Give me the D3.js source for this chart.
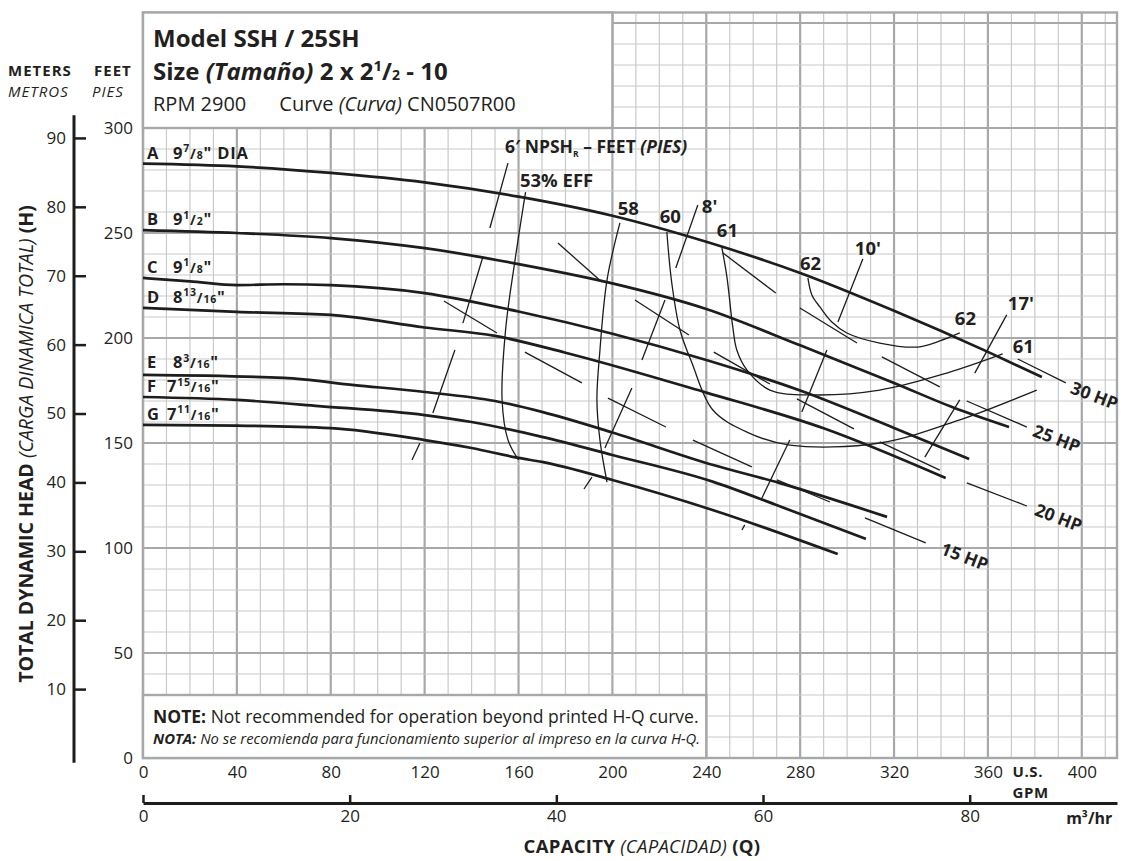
<!DOCTYPE html>
<html>
<head>
<meta charset="utf-8">
<script src="https://cdn.jsdelivr.net/npm/d3@7"></script>
<style>
  body { margin: 0; background: #fff; }
  svg text { font-family: "Open Sans", Lato, sans-serif; fill: #231f20; }
</style>
</head>
<body>
<div id="chart"></div>
<script>
// ---- axis ticks ----
const gpmTicks = [0, 40, 80, 120, 160, 200, 240, 280, 320, 360, 400];
const m3hrTicks = [0, 20, 40, 60, 80];
const feetTicks = [0, 50, 100, 150, 200, 250, 300];
const meterTicks = [10, 20, 30, 40, 50, 60, 70, 80, 90];

// ---- impeller head curves (GPM, feet) ----
const curveNames = ["A", "B", "C", "D", "E", "F", "G"];
const curveDia = [["9", "7", "8", "\" DIA"], ["9", "1", "2", "\""], ["9", "1", "8", "\""],
                  ["8", "13", "16", "\""], ["8", "3", "16", "\""], ["7", "15", "16", "\""], ["7", "11", "16", "\""]];
const qA = [0, 40, 80, 120, 160, 200, 240, 280, 320, 360, 383];
const hA = [283, 281.7, 278.6, 274.1, 267.3, 258.2, 245.8, 231, 213, 193.4, 181.4];
const qB = [0, 40, 80, 120, 160, 200, 240, 280, 320, 345, 369];
const hB = [251.4, 250, 247.6, 242.8, 235.2, 226, 213.8, 196.5, 178.6, 167, 157.6];
const qC = [0, 20, 40, 60, 80, 120, 160, 200, 240, 280, 320, 352];
const hC = [228.6, 227, 225.2, 225.6, 225.2, 221.4, 212.6, 202, 189.5, 175, 157.2, 142.4];
const qD = [0, 40, 80, 120, 150, 180, 240, 290, 342];
const hD = [214.3, 212.4, 211, 205, 201, 193, 174, 157, 133.3];
const qE = [0, 60, 90, 120, 150, 170, 200, 243, 271, 317];
const hE = [182.4, 181, 177.6, 174.3, 170, 164.8, 155, 139.5, 131, 114.8];
const qF = [0, 40, 75, 120, 140, 170, 200, 243, 271, 308];
const hF = [171.9, 170.5, 167.6, 163.3, 160, 152.9, 144.3, 131.5, 120, 104.3];
const qG = [0, 40, 80, 120, 140, 160, 170, 200, 243, 296];
const hG = [158.6, 158.3, 157.1, 151.4, 147.6, 142.9, 141, 132.4, 118, 97.1];

// ---- efficiency curves ----
const eff53Q = [163, 158.5, 154.5, 153, 155.5, 160];
const eff53H = [269.5, 237, 204, 170.5, 151.5, 142];
const eff58Q = [203.2, 197.7, 194.7, 193.4, 194.7, 197.7];
const eff58H = [254.8, 227.6, 194.3, 170.5, 151.4, 131.4];
const eff60Q = [223.2, 225.3, 228.8, 233.9, 242.8, 257.3, 275.6, 313.9, 348, 380.8];
const eff60H = [250.5, 226.2, 203.8, 188.1, 165.7, 155.2, 149, 150, 161, 175.2];
const eff61Q = [246.6, 248.8, 251.3, 253, 257.3, 267.1, 285.4, 313.9, 342.5, 366.3];
const eff61H = [243.3, 229, 205.2, 194.3, 184.8, 175.2, 172.9, 175.2, 183.3, 192.4];
const eff62Q = [283.3, 285, 288.4, 293.5, 299.9, 313.9, 330.1, 339.5, 348];
const eff62H = [228.6, 220.5, 214.8, 207.6, 202.4, 197.6, 195.7, 198.6, 202.4];

// ---- NPSHr marks [q1, h1, q2, h2] ----
const npsh6 = [[155.5, 283.3, 147.8, 252.4], [144.8, 238.6, 136.3, 207.1], [132.9, 194.3, 123.5, 164.3], [118, 150, 114.6, 141.9]];
const npsh8 = [[236.4, 263.3, 227, 233.3], [222.4, 218.1, 212.6, 189.5], [208.3, 176.2, 196.8, 147.6], [191.3, 133.8, 187.9, 128.1]];
const npsh10 = [[306.7, 237.6, 296.1, 207.6], [291.4, 194.3, 280.7, 164.8], [275.6, 151.4, 263.7, 123.8], [256.4, 111, 255.2, 108.6]];
const npsh17 = [[368, 211, 354.4, 183.3], [348, 170.5, 333.1, 143.3]];

// ---- horsepower marks [q1, h1, q2, h2] ----
const hpMarks = [
  [176.8, 245.2, 195.5, 226.7], [209.6, 218.1, 232.6, 201.4], [247.1, 240.5, 269.6, 221.4],
  [128.2, 217.6, 150.8, 202.4], [279.9, 214.3, 304.2, 197.6], [314.8, 191, 339.5, 176.7],
  [372.7, 190, 393.2, 178.6], [278.6, 171, 302.9, 156.7], [351, 170, 376.6, 157.6],
  [162.7, 193.3, 187, 178.6], [198.1, 171.4, 222.8, 157.6], [243.2, 193.3, 267.1, 178.1],
  [234.3, 151.4, 259.4, 138.6], [270.1, 132.4, 292.7, 121.9], [313.9, 150.5, 339.5, 137.1],
  [351, 131, 376.6, 120], [307.6, 114.3, 333.5, 102.4]
];
const hpLabels = ["30 HP", "25 HP", "20 HP", "15 HP"];
const hpLabelQ = [405.5, 389.4, 390.2, 350.2];
const hpLabelH = [172.9, 152.4, 114.8, 96.2];

// ---- curve tags ----
const tagText = ["58", "60", "8'", "61", "62", "10'", "62", "17'", "61"];
const tagQ = [202.3, 220.2, 238.1, 244.5, 279.9, 303.3, 345.9, 368.5, 370.6];
const tagH = [258.6, 254.8, 259.5, 248.1, 232.4, 239.5, 206.2, 213.3, 192.9];

const width = 1121, height = 861;
const svg = d3.select("#chart").append("svg")
    .attr("width", width)
    .attr("height", height);

const x = d3.scaleLinear().domain([0, 415]).range([143, 1117]);
const y = d3.scaleLinear().domain([0, 355]).range([758, 12.5]);
const xm = d3.scaleLinear().domain([0, 415 / 4.4029]).range(x.range());
const ym = d3.scaleLinear().domain([0, 355 / 3.2808]).range(y.range());

const minorCol = "#c9cacb", majorCol = "#a7a8aa", ink = "#1d1d1b";

// grid
const grid = svg.append("g");
const vLines = d3.range(0, 415, 10).sort((a, b) => (a % 40 === 0) - (b % 40 === 0));
grid.selectAll(".v").data(vLines).join("line")
    .attr("x1", d => x(d)).attr("x2", d => x(d))
    .attr("y1", y(0)).attr("y2", y(355))
    .attr("stroke", d => d % 40 === 0 ? majorCol : minorCol)
    .attr("stroke-width", d => d % 40 === 0 ? 2.2 : 1.2);
const hLines = d3.range(0, 355, 10).sort((a, b) => (a % 50 === 0) - (b % 50 === 0));
grid.selectAll(".h").data(hLines).join("line")
    .attr("y1", d => y(d)).attr("y2", d => y(d))
    .attr("x1", x(0)).attr("x2", x(415))
    .attr("stroke", d => d % 50 === 0 ? majorCol : minorCol)
    .attr("stroke-width", d => d % 50 === 0 ? 2.2 : 1.2);
grid.append("rect")
    .attr("x", x(0)).attr("y", y(355))
    .attr("width", x(415) - x(0)).attr("height", y(0) - y(355))
    .attr("fill", "none").attr("stroke", majorCol).attr("stroke-width", 2.4);

// title and note boxes
svg.append("rect")
    .attr("x", x(0)).attr("y", y(355))
    .attr("width", x(200) - x(0)).attr("height", y(300) - y(355))
    .attr("fill", "#fff").attr("stroke", majorCol).attr("stroke-width", 2.4);
svg.append("rect")
    .attr("x", x(0)).attr("y", y(30))
    .attr("width", x(240) - x(0)).attr("height", y(0) - y(30))
    .attr("fill", "#fff").attr("stroke", majorCol).attr("stroke-width", 2.4);

function rich(g, px, py, size, parts) {
    const t = g.append("text").attr("x", px).attr("y", py).attr("font-size", size);
    parts.forEach(p => {
        const ts = t.append("tspan").text(p.t);
        if (p.b) ts.attr("font-weight", 700);
        if (p.i) ts.attr("font-style", "italic");
        if (p.fs) ts.attr("font-size", p.fs);
        if (p.dy) ts.attr("dy", p.dy);
        if (p.dx) ts.attr("dx", p.dx);
    });
    return t;
}

const ann = svg.append("g");
const bx = x(0) + 10;
rich(ann, bx, 47, 24, [{t: "Model SSH / 25SH", b: 1}]);
rich(ann, bx, 80, 24, [{t: "Size ", b: 1}, {t: "(Tamaño)", b: 1, i: 1}, {t: " 2 x 2", b: 1},
    {t: "1", b: 1, fs: 15, dy: -9}, {t: "/", b: 1, dy: 9}, {t: "2", b: 1, fs: 14}, {t: " - 10", b: 1, fs: 24}]);
rich(ann, bx, 111, 20, [{t: "RPM 2900"}, {t: "Curve ", dx: 33}, {t: "(Curva)", i: 1}, {t: " CN0507R00"}]);

rich(ann, bx, 723, 17.5, [{t: "NOTE:", b: 1}, {t: " Not recommended for operation beyond printed H-Q curve."}]);
rich(ann, bx, 744, 14.8, [{t: "NOTA:", b: 1, i: 1}, {t: " No se recomienda para funcionamiento superior al impreso en la curva H-Q.", i: 1}]);

// head curves
const headLine = d3.line().x(d => x(d[0])).y(d => y(d[1])).curve(d3.curveMonotoneX);
const headQs = [qA, qB, qC, qD, qE, qF, qG];
const headHs = [hA, hB, hC, hD, hE, hF, hG];
const heads = headQs.map((qs, i) => qs.map((q, j) => [q, headHs[i][j]]));
svg.append("g").selectAll("path").data(heads).join("path")
    .attr("d", headLine)
    .attr("fill", "none").attr("stroke", ink).attr("stroke-width", 2.7);

// curve name labels
const tags = svg.append("g");
heads.forEach((pts, i) => {
    const d = curveDia[i];
    const ly = y(pts[0][1]) - (i === 4 ? 6.5 : 5);
    rich(tags, x(0) + 4, ly, 16.5, [{t: curveNames[i], b: 1}]).attr("letter-spacing", 0.8);
    rich(tags, x(0) + (i >= 5 ? 24 : 30), ly, 16.5, [{t: d[0], b: 1},
        {t: d[1], b: 1, fs: 10.5, dy: -6.5}, {t: "/", b: 1, fs: 14, dy: 6.5}, {t: d[2], b: 1, fs: 10.5},
        {t: d[3], b: 1, fs: 16.5}]).attr("letter-spacing", 0.8);
});

// efficiency curves
const effLine = d3.line().x(d => x(d[0])).y(d => y(d[1])).curve(d3.curveCatmullRom.alpha(0.5));
const effQs = [eff53Q, eff58Q, eff60Q, eff61Q, eff62Q];
const effHs = [eff53H, eff58H, eff60H, eff61H, eff62H];
const effs = effQs.map((qs, i) => qs.map((q, j) => [q, effHs[i][j]]));
svg.append("g").selectAll("path").data(effs).join("path")
    .attr("d", effLine)
    .attr("fill", "none").attr("stroke", ink).attr("stroke-width", 1.3);

// NPSH and HP marks
const marks = [].concat(npsh6, npsh8, npsh10, npsh17, hpMarks);
svg.append("g").selectAll("line").data(marks).join("line")
    .attr("x1", d => x(d[0])).attr("y1", d => y(d[1]))
    .attr("x2", d => x(d[2])).attr("y2", d => y(d[3]))
    .attr("stroke", ink).attr("stroke-width", 1.3);

// text tags on curves
tags.selectAll(".tag").data(tagText).join("text")
    .attr("class", "tag")
    .attr("x", (d, i) => x(tagQ[i])).attr("y", (d, i) => y(tagH[i]))
    .attr("font-size", 18.5).attr("font-weight", 700)
    .text(d => d);
rich(tags, x(154.2), y(288), 17.5, [{t: "6′ NPSH", b: 1}, {t: "R", b: 1, fs: 8.5, dy: 4},
    {t: " – FEET ", b: 1, fs: 17.5, dy: -4}, {t: "(PIES)", b: 1, i: 1}]);
rich(tags, x(160.6), y(272), 18.5, [{t: "53% EFF", b: 1}]);

tags.selectAll(".hp").data(hpLabels).join("text")
    .attr("class", "hp")
    .attr("transform", (d, i) => `translate(${x(hpLabelQ[i])},${y(hpLabelH[i])}) rotate(21)`)
    .attr("text-anchor", "middle").attr("dominant-baseline", "central")
    .attr("font-size", 17.5).attr("font-weight", 700)
    .text(d => d);

// feet axis
const feetAxis = svg.append("g")
    .attr("transform", `translate(${x(0)},0)`)
    .call(d3.axisLeft(y).tickValues(feetTicks).tickSize(0).tickPadding(10))
    .call(g => g.select(".domain").remove());
feetAxis.selectAll("text").attr("font-size", 17).attr("fill", "#231f20");

// meters axis
const meterX = 74;
svg.append("line")
    .attr("x1", meterX).attr("x2", meterX)
    .attr("y1", ym(93.3)).attr("y2", ym(-0.7))
    .attr("stroke", ink).attr("stroke-width", 3);
const meterAxis = svg.append("g")
    .attr("transform", `translate(${meterX},0)`)
    .call(d3.axisLeft(ym).tickValues(meterTicks).tickSizeInner(-12).tickSizeOuter(0).tickPadding(8))
    .call(g => g.select(".domain").remove());
meterAxis.selectAll("line").attr("stroke", ink).attr("stroke-width", 2.5);
meterAxis.selectAll("text").attr("font-size", 17).attr("fill", "#231f20");

// gpm axis
const gpmAxis = svg.append("g")
    .attr("transform", `translate(0,${y(0)})`)
    .call(d3.axisBottom(x).tickValues(gpmTicks).tickSize(0).tickPadding(8))
    .call(g => g.select(".domain").remove());
gpmAxis.selectAll("text").attr("font-size", 17).attr("fill", "#231f20");

// m3/hr axis
const m3Axis = svg.append("g")
    .attr("transform", `translate(0,803)`)
    .call(d3.axisBottom(xm).tickValues(m3hrTicks).tickSizeInner(-8).tickSizeOuter(0).tickPadding(7));
m3Axis.select(".domain").attr("stroke", ink).attr("stroke-width", 3);
m3Axis.selectAll(".tick line").attr("stroke", ink).attr("stroke-width", 2.5);
m3Axis.selectAll("text").attr("font-size", 17).attr("fill", "#231f20");

// axis titles
rich(ann, x(370.5), 777, 15, [{t: "U.S.", b: 1}]).attr("letter-spacing", 0.6);
rich(ann, x(370.5), 798, 15, [{t: "GPM", b: 1}]).attr("letter-spacing", 0.6);
rich(ann, x(413), 824, 16, [{t: "m³/hr", b: 1}]).attr("text-anchor", "end");

rich(ann, 642, 853, 18.5, [{t: "CAPACITY", b: 1}, {t: " (CAPACIDAD)", i: 1}, {t: " (Q)", b: 1}])
    .attr("text-anchor", "middle").attr("letter-spacing", 0.3);
rich(ann, 0, 0, 19.5, [{t: "TOTAL DYNAMIC HEAD", b: 1}, {t: " (CARGA DINAMICA TOTAL)", i: 1}, {t: " (H)", b: 1}])
    .attr("text-anchor", "middle")
    .attr("transform", "translate(33,444) rotate(-90)");

rich(ann, 8, 76, 15, [{t: "METERS", b: 1}]).attr("letter-spacing", 1);
rich(ann, 94, 76, 15, [{t: "FEET", b: 1}]).attr("letter-spacing", 1);
rich(ann, 8, 97, 15, [{t: "METROS", i: 1}]).attr("letter-spacing", 1);
rich(ann, 92, 97, 15, [{t: "PIES", i: 1}]).attr("letter-spacing", 1);
</script>
</body>
</html>
